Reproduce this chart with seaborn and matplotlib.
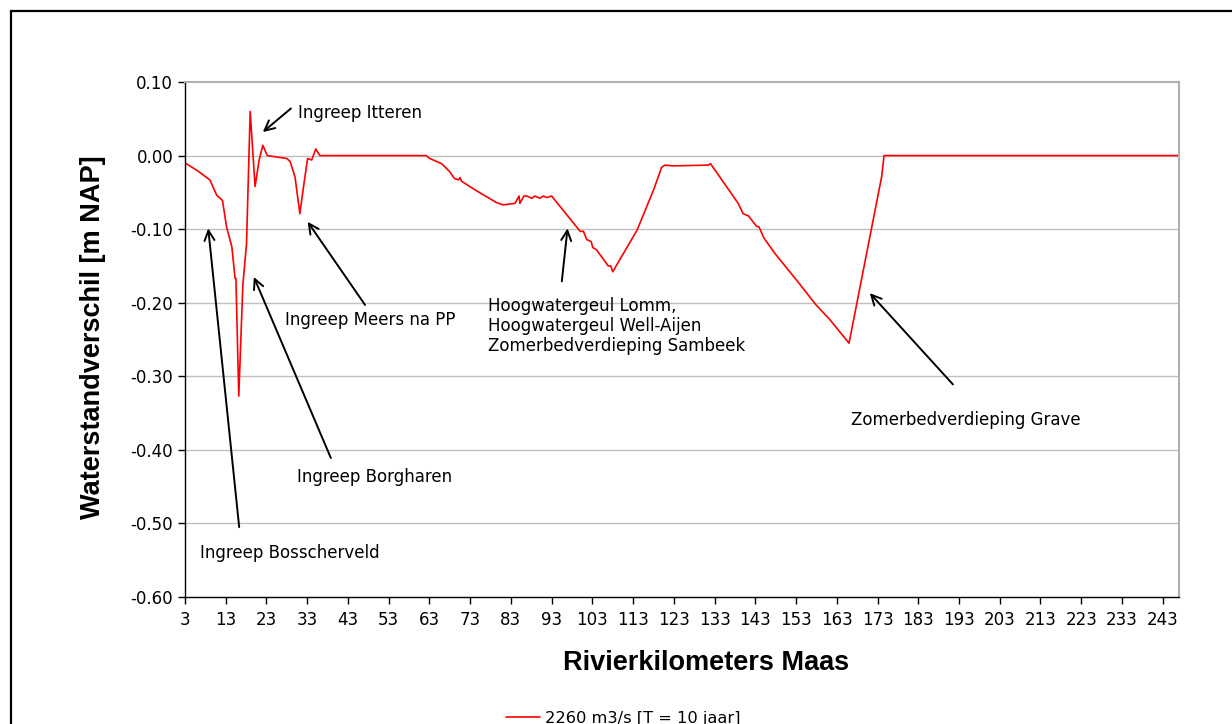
import numpy as np
import pandas as pd
import matplotlib
matplotlib.use("Agg")
import matplotlib.pyplot as plt
from matplotlib.patches import Rectangle
import seaborn as sns

# ---- data ----
km = [3, 5.9, 9.1, 10.8, 12.2, 13.2, 14.5, 15.3, 15.5, 16.2, 17.2, 18.1, 19.0, 20.2,
      21.2, 22.1, 23.2, 28.0, 28.8, 30.0, 31.2, 32.2, 33.1, 34.1, 35.1, 36.1, 62.2,
      63.1, 66.0, 68.0, 69.1, 70.1, 70.5, 70.9, 74.6, 79.5, 81.1, 84.0, 85.0, 85.2,
      86.2, 86.9, 88.1, 88.9, 90.1, 91.0, 91.8, 93.0, 100.0, 100.8, 101.6, 102.7,
      103.1, 104.0, 106.9, 107.5, 108.0, 114.0, 118.0, 120.0, 120.8, 122.9, 131.4,
      132.0, 138.8, 140.0, 141.3, 143.3, 143.9, 145.1, 147.8, 153.8, 157.9, 161.3,
      166.0, 174.0, 174.6, 247]
verschil = [-0.010, -0.020, -0.033, -0.054, -0.061, -0.097, -0.124, -0.167, -0.167,
            -0.327, -0.176, -0.120, 0.060, -0.042, -0.006, 0.014, 0.000, -0.004,
            -0.008, -0.029, -0.079, -0.038, -0.004, -0.006, 0.009, 0.000, 0.000,
            -0.004, -0.011, -0.022, -0.031, -0.033, -0.030, -0.035, -0.048, -0.064,
            -0.067, -0.065, -0.055, -0.065, -0.055, -0.055, -0.058, -0.055, -0.058,
            -0.055, -0.057, -0.055, -0.103, -0.103, -0.114, -0.117, -0.125, -0.128,
            -0.150, -0.150, -0.158, -0.101, -0.047, -0.016, -0.013, -0.014, -0.013,
            -0.011, -0.065, -0.079, -0.082, -0.096, -0.097, -0.112, -0.133, -0.174,
            -0.203, -0.223, -0.255, -0.029, 0.000, 0.000]
series_label = "2260 m3/s [T = 10 jaar]"
x_ticks = list(range(3, 244, 10))
y_ticks = [0.10, 0.00, -0.10, -0.20, -0.30, -0.40, -0.50, -0.60]

# annotations: text, text position (km, value), arrow tail, arrow head
ann_texts = ["Ingreep Itteren", "Ingreep Meers na PP", "Ingreep Borgharen",
             "Ingreep Bosscherveld",
             "Hoogwatergeul Lomm,\nHoogwatergeul Well-Aijen\nZomerbedverdieping Sambeek",
             "Zomerbedverdieping Grave"]
ann_text_pos = [(30.7, 0.058), (27.5, -0.2235), (30.5, -0.437), (6.7, -0.540),
                (77.4, -0.232), (166.5, -0.360)]
ann_tail = [(29.0, 0.064), (47.2, -0.203), (38.8, -0.411), (16.3, -0.505),
            (95.5, -0.171), (191.5, -0.311)]
ann_head = [(22.1, 0.032), (33.1, -0.090), (19.9, -0.165), (8.7, -0.099),
            (96.9, -0.099), (171.1, -0.187)]

df = pd.DataFrame({"km": km, "verschil": verschil})

sns.set_style("white")
plt.rcParams["font.family"] = ["DejaVu Sans"]
plt.rcParams["text.color"] = "black"

fig = plt.figure(figsize=(12.32, 7.24), dpi=100)
ax = fig.add_axes([185 / 1232, 1 - 597 / 724, (1179 - 185) / 1232, (597 - 82) / 724])

sns.lineplot(data=df, x="km", y="verschil", ax=ax, color="#ff0000", lw=1.2,
             estimator=None, sort=False, label=series_label, legend=False)

ax.set_xlim(3, 247)
ax.set_ylim(-0.60, 0.10)
ax.set_xticks(x_ticks)
ax.set_xticklabels([str(t) for t in x_ticks], fontsize=12)
ax.set_yticks(y_ticks)
ax.set_yticklabels([f"{t:.2f}" for t in y_ticks], fontsize=12)
ax.tick_params(axis="both", direction="out", length=5, width=1, colors="black",
               labelcolor="black", left=True, bottom=True)
ax.tick_params(axis="x", pad=5)
for v in y_ticks[1:-1]:
    ax.axhline(v, color="#c0c0c0", lw=1, zorder=0)
for s in ["left", "bottom"]:
    ax.spines[s].set_color("black")
    ax.spines[s].set_linewidth(1)
for s in ["top", "right"]:
    ax.spines[s].set_color("#b0b0b0")
    ax.spines[s].set_linewidth(1.5)

ax.set_xlabel("Rivierkilometers Maas", fontsize=19.5, fontweight="bold",
              family=["Liberation Sans", "DejaVu Sans"], color="black")
ax.xaxis.set_label_coords((706 - 185) / 994, (597 - 650) / 515)
ax.set_ylabel("Waterstandverschil [m NAP]", fontsize=19.5, fontweight="bold",
              family=["Liberation Sans", "DejaVu Sans"], color="black")
ax.yaxis.set_label_coords((106 - 185) / 994, (597 - 337.5) / 515)

for txt, tp, tail, head in zip(ann_texts, ann_text_pos, ann_tail, ann_head):
    ax.text(tp[0], tp[1], txt, fontsize=12, ha="left", va="center",
            color="black", linespacing=1.15)
    ax.annotate("", xy=head, xytext=tail,
                arrowprops=dict(arrowstyle="->", color="black", lw=1.4,
                                mutation_scale=18, shrinkA=0, shrinkB=0))

handles, labels = ax.get_legend_handles_labels()
leg = fig.legend(handles, labels, loc="center",
                 bbox_to_anchor=(623 / 1232, 1 - 718 / 724),
                 frameon=False, fontsize=11.7, handlelength=2.1, handletextpad=0.3,
                 labelcolor="black")

fig.add_artist(Rectangle((10.5 / 1232, -0.1), 1.2, 1.1 - 10.5 / 724,
                         transform=fig.transFigure, fill=False,
                         edgecolor="black", lw=1.6))

fig.savefig("out.png", dpi=100)
